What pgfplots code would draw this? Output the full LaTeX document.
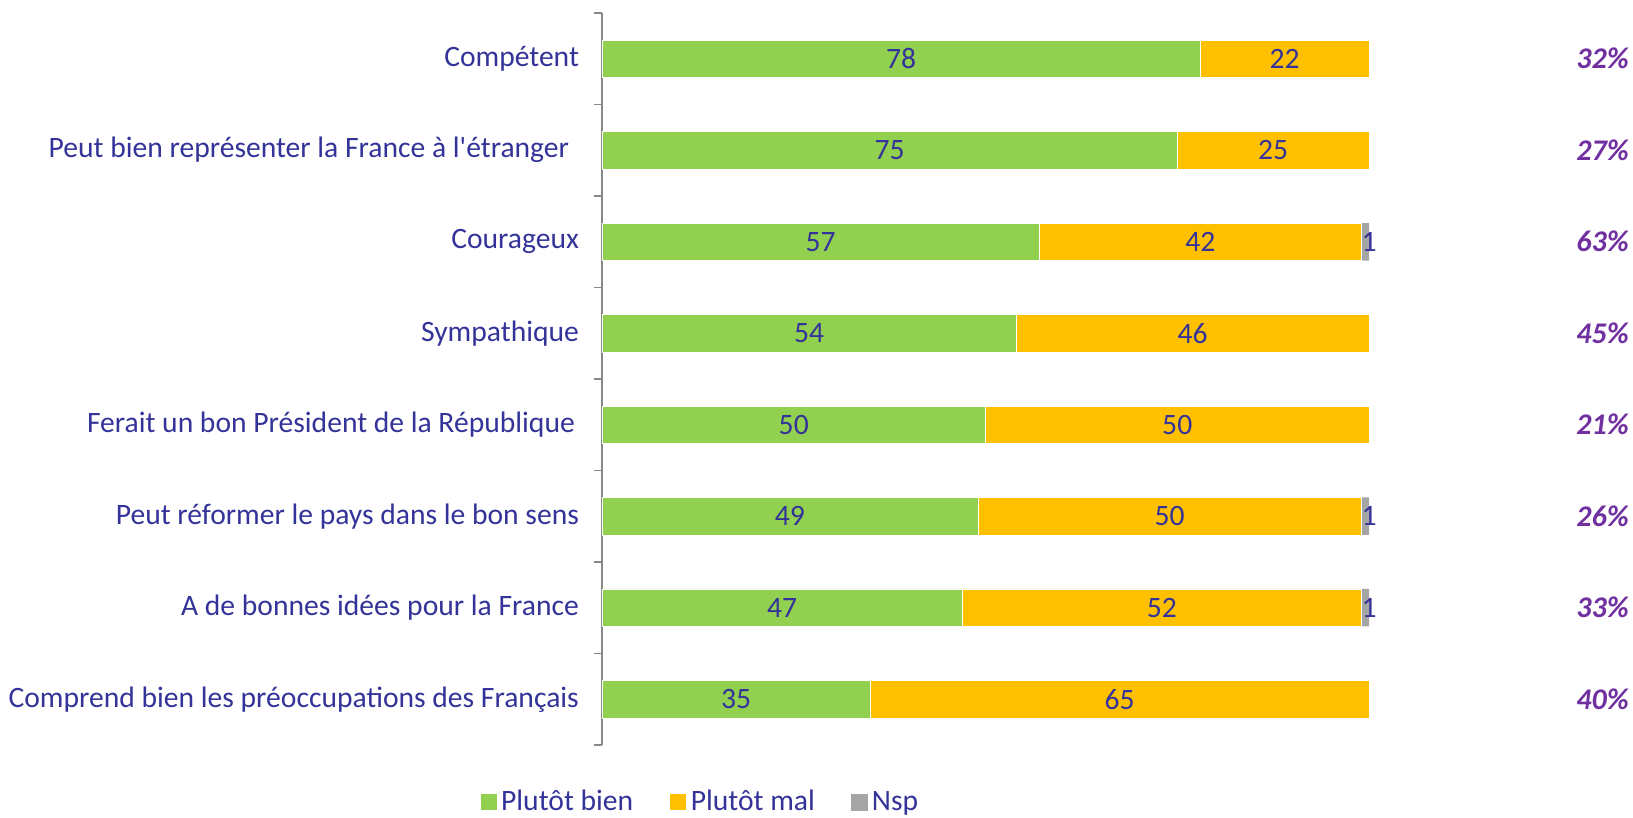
\documentclass[border=0pt]{standalone}
\usepackage{pgfplots}
\pgfplotsset{compat=1.18}
\usepackage{pgfplotstable}
\usepackage{fontspec}
\setmainfont{Carlito}
\definecolor{txtblue}{HTML}{333399}
\definecolor{pctpurple}{HTML}{7030A0}
\definecolor{cbien}{HTML}{92D050}
\definecolor{cmal}{HTML}{FFC000}
\definecolor{cnsp}{HTML}{A5A5A5}
\definecolor{axgray}{HTML}{888888}
\newcommand\E{}
\pgfplotstableread{
idx bien mal nsp nsplab
7 78 22 0 \E
6 75 25 0 \E
5 57 42 1 1
4 54 46 0 \E
3 50 50 0 \E
2 49 50 1 1
1 47 52 1 1
0 35 65 0 \E
}\datatab
\tikzset{pct/.style={anchor=east, inner sep=0pt, text=pctpurple, font=\fontsize{15}{17}\selectfont\bfseries\itshape}}
\begin{document}
\begin{tikzpicture}
\useasboundingbox (-301pt,-36.5pt) rectangle (515.5pt,372.5pt);
\begin{axis}[
  scale only axis,
  width=383.5pt, height=366pt,
  xbar stacked,
  bar width=18.75pt,
  xmin=0, xmax=100,
  ymin=-0.5, ymax=7.5,
  axis x line=none,
  axis y line*=left,
  y axis line style={axgray, line width=0.8pt},
  ytick={0,...,7},
  yticklabels={Comprend bien les préoccupations des Français,
    A de bonnes idées pour la France,
    Peut réformer le pays dans le bon sens,
    Ferait un bon Président de la République\kern2pt,
    Sympathique,
    Courageux,
    Peut bien représenter la France à l\textquotesingle étranger\kern5pt,
    Compétent},
  minor ytick={-0.5,0.5,...,7.5},
  major tick length=0pt,
  minor tick length=4pt,
  tick align=outside,
  minor tick style={axgray, line width=0.8pt},
  y tick label style={font=\fontsize{14.8}{17}\selectfont, text=txtblue, anchor=east, xshift=-8pt},
  clip=false,
  /pgf/number format/assume math mode=true,
  nodes near coords,
  every node near coord/.append style={font=\fontsize{14.8}{17}\selectfont, text=txtblue, anchor=center},
  legend style={at={(axis description cs:-0.168,-0.078)}, anchor=west, draw=none, fill=none,
    font=\fontsize{14.8}{17}\selectfont, text=txtblue, legend columns=3,
    /tikz/every even column/.append style={column sep=16pt}},
  legend image code/.code={\fill (-2.5pt,-4.25pt) rectangle (6pt,4.25pt);},
]
\addplot[fill=cbien, draw=white, line width=0.3pt]
  table[x=bien, y=idx] {\datatab};
\addlegendentry{Plutôt bien}
\addplot[fill=cmal, draw=white, line width=0.3pt]
  table[x=mal, y=idx] {\datatab};
\addlegendentry{Plutôt mal}
\addplot[fill=cnsp, draw=none, point meta=explicit symbolic,
  every node near coord/.append style={xshift=2pt}]
  table[x=nsp, y=idx, meta=nsplab] {\datatab};
\addlegendentry{Nsp}
\node[pct] at (axis cs:133.9,7) {32\%};
\node[pct] at (axis cs:133.9,6) {27\%};
\node[pct] at (axis cs:133.9,5) {63\%};
\node[pct] at (axis cs:133.9,4) {45\%};
\node[pct] at (axis cs:133.9,3) {21\%};
\node[pct] at (axis cs:133.9,2) {26\%};
\node[pct] at (axis cs:133.9,1) {33\%};
\node[pct] at (axis cs:133.9,0) {40\%};
\end{axis}
\end{tikzpicture}
\end{document}
